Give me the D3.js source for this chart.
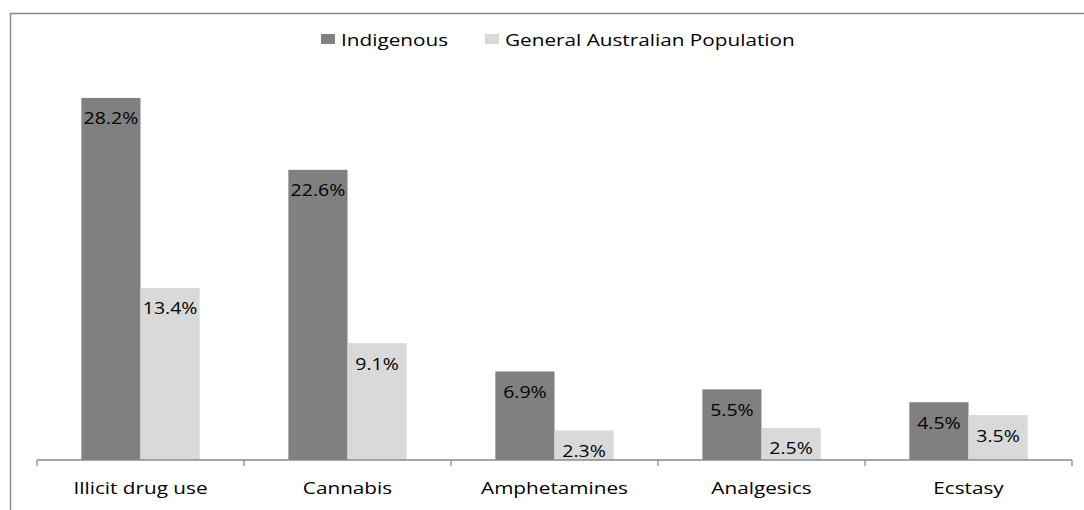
<!DOCTYPE html>
<html>
<head>
<meta charset="utf-8">
<script src="https://cdn.jsdelivr.net/npm/d3@7"></script>
<style>
  body { margin: 0; background: #fff; }
  text { font-family: "Open Sans", sans-serif; fill: #000; }
</style>
</head>
<body>
<div id="chart"></div>
<script>
var categories = ["Illicit drug use", "Cannabis", "Amphetamines", "Analgesics", "Ecstasy"];
var seriesNames = ["Indigenous", "General Australian Population"];
var indigenous = [28.2, 22.6, 6.9, 5.5, 4.5];
var general = [13.4, 9.1, 2.3, 2.5, 3.5];
var seriesColors = ["#808080", "#d9d9d9"];

var width = 1084, height = 510;
var stretch = 1.22; // the text in the picture is drawn wide

var svg = d3.select("#chart")
  .append("svg")
  .attr("width", width)
  .attr("height", height);

// frame (only top and left edges show)
svg.append("path")
  .attr("d", "M10.5,510 V13.5 H1084")
  .attr("fill", "none")
  .attr("stroke", "#8a8a8a")
  .attr("stroke-width", 1.5);

var x0 = d3.scaleBand()
  .domain(categories)
  .range([37, 1072]);

var x1 = d3.scaleBand()
  .domain(seriesNames)
  .range([0, x0.bandwidth()])
  .paddingInner(0)
  .paddingOuter(0.75);

var y = d3.scaleLinear()
  .domain([0, 30])
  .range([460, 74.8]);

var rows = categories.map(function(c, i){
  return {cat: c, vals: [indigenous[i], general[i]]};
});

var groups = svg.append("g")
  .selectAll("g")
  .data(rows)
  .enter().append("g")
  .attr("transform", (d) => "translate(" + x0(d.cat) + ",0)");

groups.selectAll("rect")
  .data((d) => d.vals.map((v, j) => ({s: seriesNames[j], v: v, j: j})))
  .enter().append("rect")
  .attr("x", (d) => x1(d.s))
  .attr("y", (d) => y(d.v))
  .attr("width", x1.bandwidth())
  .attr("height", (d) => y(0) - y(d.v))
  .attr("fill", (d) => seriesColors[d.j]);

groups.selectAll("text")
  .data((d) => d.vals.map((v, j) => ({s: seriesNames[j], v: v})))
  .enter().append("text")
  .attr("transform", (d) => "translate(" + (x1(d.s) + x1.bandwidth() / 2) + "," + (y(d.v) + 26.5) + ") scale(" + stretch + ",1)")
  .attr("text-anchor", "middle")
  .style("font-size", "16px")
  .text((d) => d.v.toFixed(1) + "%");

// x axis
var xAxis = d3.axisBottom(x0).tickSize(0).tickFormat("");
var axisG = svg.append("g")
  .attr("transform", "translate(0,460)")
  .call(xAxis);
axisG.select(".domain").attr("stroke", "#8a8a8a").attr("stroke-width", 1.3)
  .attr("d", "M37,0H1072");

var bounds = categories.map((c) => x0(c)).concat([x0.range()[1]]);
axisG.selectAll(".sep")
  .data(bounds)
  .enter().append("line")
  .attr("class", "sep")
  .attr("x1", (d) => d).attr("x2", (d) => d)
  .attr("y1", 0).attr("y2", 6)
  .attr("stroke", "#8a8a8a")
  .attr("stroke-width", 1.3);

svg.append("g").selectAll("text")
  .data(categories)
  .enter().append("text")
  .attr("transform", (d) => "translate(" + (x0(d) + x0.bandwidth() / 2) + ",494) scale(" + stretch + ",1)")
  .attr("text-anchor", "middle")
  .style("font-size", "17px")
  .text((d) => d);

// legend
var legendX = [321, 485];
var legend = svg.append("g")
  .selectAll("g")
  .data(seriesNames)
  .enter().append("g")
  .attr("transform", (d, i) => "translate(" + legendX[i] + ",0)");

legend.append("rect")
  .attr("x", 0).attr("y", 34)
  .attr("width", 14).attr("height", 10)
  .attr("fill", (d, i) => seriesColors[i]);

legend.append("text")
  .attr("transform", "translate(20,46) scale(" + stretch + ",1)")
  .style("font-size", "17px")
  .text((d) => d);
</script>
</body>
</html>
